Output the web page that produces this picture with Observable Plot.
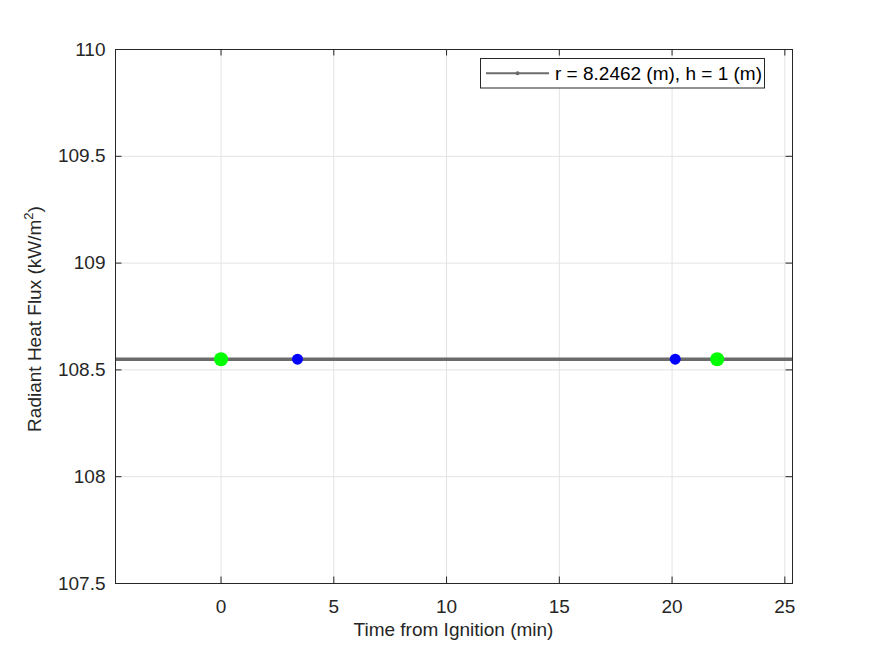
<!DOCTYPE html>
<html><head><meta charset="utf-8">
<script src="https://cdn.jsdelivr.net/npm/d3@7"></script>
<script src="https://cdn.jsdelivr.net/npm/@observablehq/plot@0.6"></script>
<style>
body{margin:0;background:#fff;}
#chart svg{font-family:"Liberation Sans",Arial,Helvetica,sans-serif;}
</style>
</head><body><div id="chart"></div>
<script>
// ---- data ----
const lineTime = [-4.68, 0, 3.39, 20.14, 22, 25.34];
const lineFlux = [108.55, 108.55, 108.55, 108.55, 108.55, 108.55];
const greenTime = [0, 22];
const greenFlux = [108.55, 108.55];
const blueTime = [3.39, 20.14];
const blueFlux = [108.55, 108.55];
const xTicks = [0, 5, 10, 15, 20, 25];
const yTicks = [107.5, 108, 108.5, 109, 109.5, 110];
const xDomain = [-4.68, 25.34];
const yDomain = [107.5, 110];
const xLabel = "Time from Ignition (min)";
const yLabelMain = "Radiant Heat Flux (kW/m";
const yLabelSup = "2";
const yLabelEnd = ")";
const legendLabel = "r = 8.2462 (m), h = 1 (m)";

// ---- build ----
const lineData = lineTime.map((t, i) => ({t, f: lineFlux[i]}));
const greenData = greenTime.map((t, i) => ({t, f: greenFlux[i]}));
const blueData = blueTime.map((t, i) => ({t, f: blueFlux[i]}));

const W = 875, H = 656, mL = 115, mR = 83, mT = 49, mB = 73;
const innerW = W - mL - mR, innerH = H - mT - mB;
const tickLen = 6.5;
const axisColor = "#262626";
const gridColor = "#e3e3e3";
const lineColor = "#6b6b6b";
const fs = 19;

const plot = Plot.plot({
  width: W, height: H,
  marginLeft: mL, marginRight: mR, marginTop: mT, marginBottom: mB,
  style: {background: "white", color: axisColor, fontSize: fs + "px", fontFamily: "Liberation Sans, Arial, sans-serif"},
  x: {domain: xDomain},
  y: {domain: yDomain},
  marks: [
    Plot.gridX(xTicks, {stroke: gridColor, strokeOpacity: 1}),
    Plot.gridY(yTicks, {stroke: gridColor, strokeOpacity: 1}),
    Plot.line(lineData, {x: "t", y: "f", stroke: lineColor, strokeWidth: 3.5, clip: true}),
    Plot.dot(greenData, {x: "t", y: "f", r: 7, fill: "#00ff00", stroke: "none"}),
    Plot.dot(blueData, {x: "t", y: "f", r: 5.5, fill: "#0000ff", stroke: "none"}),
    Plot.frame({stroke: axisColor, strokeWidth: 1}),
    Plot.tickX(xTicks, {x: d => d, insetTop: innerH - tickLen, stroke: axisColor}),
    Plot.tickX(xTicks, {x: d => d, insetBottom: innerH - tickLen, stroke: axisColor}),
    Plot.tickY(yTicks, {y: d => d, insetRight: innerW - tickLen, stroke: axisColor}),
    Plot.tickY(yTicks, {y: d => d, insetLeft: innerW - tickLen, stroke: axisColor}),
    Plot.axisX(xTicks, {anchor: "bottom", tickSize: 0, tickPadding: 16, label: null, fontSize: fs, tickFormat: d => String(d), fill: axisColor}),
    Plot.axisY(yTicks, {anchor: "left", tickSize: 0, tickPadding: 10, label: null, fontSize: fs, tickFormat: d => String(d), fill: axisColor})
  ]
});

const svg = d3.select(plot);

// x label
svg.append("text")
  .attr("x", mL + innerW / 2).attr("y", 636)
  .attr("text-anchor", "middle")
  .attr("font-size", fs).attr("fill", axisColor)
  .text(xLabel);

// y label with superscript
const yl = svg.append("text")
  .attr("transform", `translate(41,${mT + innerH / 2 + 3}) rotate(-90)`)
  .attr("text-anchor", "middle")
  .attr("font-size", fs).attr("fill", axisColor);
yl.append("tspan").text(yLabelMain);
yl.append("tspan").attr("dy", -8).attr("font-size", 13).text(yLabelSup);
yl.append("tspan").attr("dy", 8).text(yLabelEnd);

// legend
const lg = svg.append("g");
lg.append("rect").attr("x", 480.5).attr("y", 58.5).attr("width", 284).attr("height", 29.5)
  .attr("fill", "white").attr("stroke", axisColor).attr("stroke-width", 1);
lg.append("line").attr("x1", 486).attr("x2", 549).attr("y1", 73.3).attr("y2", 73.3)
  .attr("stroke", lineColor).attr("stroke-width", 2);
lg.append("circle").attr("cx", 517.5).attr("cy", 73.3).attr("r", 2).attr("fill", lineColor);
lg.append("text").attr("x", 555).attr("y", 80).attr("font-size", fs).attr("fill", "#000")
  .attr("text-anchor", "start")
  .text(legendLabel);

document.getElementById("chart").appendChild(plot);
</script>
</body></html>
